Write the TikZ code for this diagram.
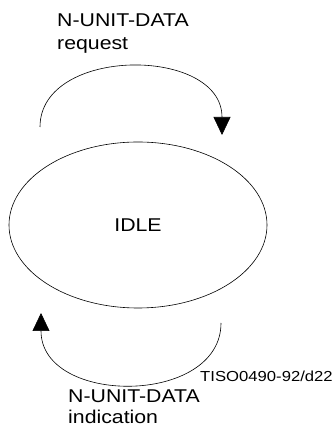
\documentclass[tikz,border=0pt]{standalone}
\usepackage{fontspec}
\setmainfont{Liberation Sans}
\newfontfamily\labelfont[FakeStretch=1.15]{Liberation Sans}
\usetikzlibrary{arrows.meta,shapes.geometric}
\tikzset{
	statelabel/.style={font=\labelfont\fontsize{18.5}{22}\selectfont, inner sep=0pt, align=left},
	figref/.style={font=\labelfont\fontsize{14.5}{17}\selectfont, inner sep=0pt},
	loopline/.style={line width=0.6pt, -{Triangle[length=18pt, width=17pt]}}
}

\begin{document}
\begin{tikzpicture}[x=1pt, y=1pt]
			%%%%% START %%%%%
			
			\useasboundingbox (0, 0) rectangle (335, 435);
			
			\node[ellipse, draw, line width=0.6pt, minimum width=258, minimum height=166, inner sep=0pt, font=\labelfont\fontsize{18.5}{22}\selectfont] (idle) at (138, 210) {IDLE};
			
			\coordinate (reqStart) at (40, 308);
			\coordinate (reqEnd) at (222, 300);
			\draw[loopline] (reqStart) .. controls (40, 389) and (222, 389) .. (reqEnd);
			
			\coordinate (indStart) at (221, 112);
			\coordinate (indEnd) at (41, 122);
			\draw[loopline] (indStart) .. controls (221, 29) and (41, 29) .. (indEnd);
			
			\node[statelabel, anchor=base west] (reqText) at (57, 408) {N-UNIT-DATA};
			\node[statelabel, anchor=base west] (reqKind) at (57, 385) {request};
			
			\node[statelabel, anchor=base west] (indText) at (68, 32) {N-UNIT-DATA};
			\node[statelabel, anchor=base west] (indKind) at (68, 12) {indication};
			
			\node[figref, anchor=base west] (figId) at (200, 53) {TISO0490-92/d22};
			
			%%%%% END %%%%%
		\end{tikzpicture}
\end{document}
